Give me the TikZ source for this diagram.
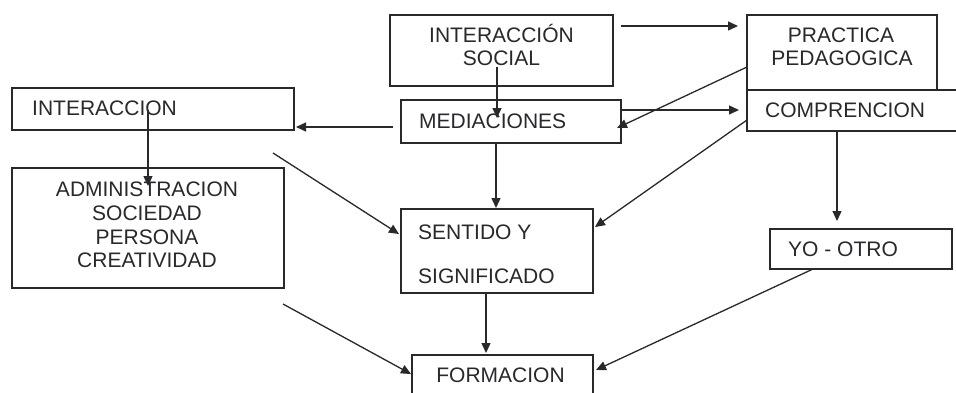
\documentclass[tikz,border=0pt]{standalone}
\usepackage{fontspec}
\setmainfont{Liberation Sans}
\usetikzlibrary{arrows.meta,calc}
\definecolor{ink}{RGB}{40,40,45}
\begin{document}
\begin{tikzpicture}[x=1pt,y=-1pt,
  box/.style={draw=ink, line width=1.6pt, rectangle, inner sep=0pt, outer sep=0pt, anchor=north west},
  arr/.style={draw=ink, line width=1.3pt, -{Triangle[length=10pt,width=9pt]}},
  txt/.style={inner sep=0pt, text=ink, font=\fontsize{21}{25}\selectfont}
]
\useasboundingbox (0,0) rectangle (956,392);
\fill[white] (0,0) rectangle (956,392);
\clip (0,0) rectangle (956,392);
% boxes
\node[box, minimum width=223pt, minimum height=71pt] (IS) at (390,15) {};
\node[box, minimum width=190pt, minimum height=75pt] (PP) at (747,15) {};
\node[box, minimum width=215pt, minimum height=41pt] (CO) at (747,90) {};
\node[box, minimum width=220pt, minimum height=43pt] (ME) at (401,100) {};
\node[box, minimum width=282pt, minimum height=42pt] (IN) at (12,88) {};
\node[box, minimum width=272pt, minimum height=120pt] (AD) at (12,168) {};
\node[box, minimum width=192pt, minimum height=84pt] (SE) at (401,209) {};
\node[box, minimum width=182pt, minimum height=40pt] (YO) at (770,229) {};
\node[box, minimum width=181pt, minimum height=45pt] (FO) at (412,355) {};
% texts
\node[txt, anchor=base] (is1) at (501.5,42.5) {INTERACCIÓN};
\node[txt, anchor=base] (is2) at (501.5,65.5) {SOCIAL};
\node[txt, anchor=base] (pp1) at (841,42.5) {PRACTICA};
\node[txt, anchor=base] (pp2) at (842,65.5) {PEDAGOGICA};
\node[txt, anchor=base west] (co1) at (765,117.5) {COMPRENCION};
\node[txt, anchor=base west] (me1) at (419,128.5) {MEDIACIONES};
\node[txt, anchor=base west] (in1) at (32,115.5) {INTERACCION};
\node[txt, anchor=base] (ad1) at (147,196.5) {ADMINISTRACION};
\node[txt, anchor=base] (ad2) at (147,220.5) {SOCIEDAD};
\node[txt, anchor=base] (ad3) at (147,244.5) {PERSONA};
\node[txt, anchor=base] (ad4) at (147,267.5) {CREATIVIDAD};
\node[txt, anchor=base west] (se1) at (418,239.5) {SENTIDO Y};
\node[txt, anchor=base west] (se2) at (418,283.5) {SIGNIFICADO};
\node[txt, anchor=base west] (yo1) at (788,256.5) {YO - OTRO};
\node[txt, anchor=base] (fo1) at (500.5,382.5) {FORMACION};
% connectors
\draw[arr] ($(IS.north west)+(231,11)$) -- ($(PP.north west)+(-9,11)$);
\draw[arr] ($(IS.north west)+(107,52)$) -- ($(ME.north west)+(96,18)$);
\draw[arr] ($(ME.north west)+(-8,27)$) -- ($(IN.north west)+(284,39)$);
\draw[arr] ($(IN.north west)+(136,22)$) -- ($(AD.north west)+(136,18)$);
\draw[arr] ($(ME.north west)+(220,10)$) -- ($(CO.north west)+(-8,20)$);
\draw[arr] ($(PP.north west)+(0,52)$) -- ($(ME.north west)+(216,28)$);
\draw[arr] ($(CO.north west)+(0,30)$) -- ($(SE.north west)+(194,18)$);
\draw[arr] ($(ME.north west)+(95,43)$) -- ($(SE.north west)+(95,-1)$);
\draw[arr] ($(IN.north west)+(261,65)$) -- ($(SE.north west)+(-2,25)$);
\draw[arr] ($(CO.north west)+(90,41)$) -- ($(YO.north west)+(67,-8)$);
\draw[arr] ($(AD.north west)+(271,136)$) -- ($(FO.north west)+(-1,19)$);
\draw[arr] ($(SE.north west)+(85,84)$) -- ($(FO.north west)+(74,-2)$);
\draw[arr] ($(YO.north west)+(43,40)$) -- ($(FO.north west)+(184,15)$);
\end{tikzpicture}
\end{document}
